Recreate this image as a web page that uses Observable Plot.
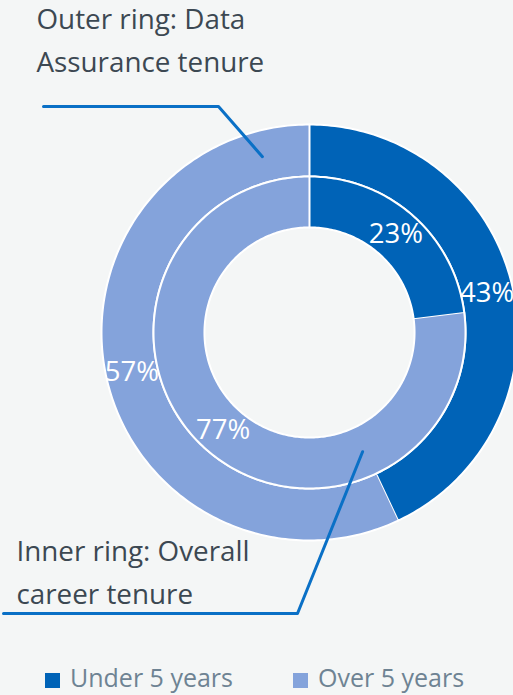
<!DOCTYPE html>
<html><head><meta charset="utf-8">
<script src="https://cdn.jsdelivr.net/npm/d3@7"></script>
<script src="https://cdn.jsdelivr.net/npm/@observablehq/plot@0.6"></script>
<style>
html,body{margin:0;padding:0;background:#F4F6F6;}
body{width:513px;height:695px;overflow:hidden;position:relative;font-family:"Open Sans",sans-serif;}
#chart svg{display:block;background:#F4F6F6;}
#legend{position:absolute;left:0;top:660px;width:513px;height:35px;font-size:25px;color:#6E8393;line-height:34px;}
#legend .item{position:absolute;top:0;white-space:nowrap;}
#legend .sw{position:absolute;top:13px;left:0;width:15px;height:15px;}
#legend .lbl{position:absolute;top:0;left:25px;}
</style></head>
<body><div id="chart"></div><div id="legend"></div>
<script>
// ---- data ----
const categories = ["Under 5 years", "Over 5 years"];
const outerValues = [43, 57];   // Outer ring: Data Assurance tenure
const innerValues = [23, 77];   // Inner ring: Overall career tenure
const ringLabels = [["Outer ring: Data", "Assurance tenure"], ["Inner ring: Overall", "career tenure"]];
const colors = ["#0063B7", "#84A3DB"];

// ---- layout ----
const W = 513, H = 660, cx = 309, cy = 332, R = 208;
const X = px => (px - cx) / R, Y = py => (cy - py) / R;
const rad = a => a * Math.PI / 180;
const rings = [
  {name: "outer", values: outerValues, r0: 0.75, r1: 1},
  {name: "inner", values: innerValues, r0: 0.505, r1: 0.75}
];
const polys = [], labels = [];
for (const ring of rings) {
  const total = d3.sum(ring.values);
  let acc = 0;
  ring.values.forEach((v, i) => {
    const a0 = acc / total * 360, a1 = (acc + v) / total * 360; acc += v;
    const key = ring.name + i, n = Math.max(2, Math.ceil(a1 - a0));
    for (let k = 0; k <= n; k++) { const a = rad(a0 + (a1 - a0) * k / n); polys.push({key, cat: categories[i], x: ring.r1 * Math.sin(a), y: ring.r1 * Math.cos(a)}); }
    for (let k = n; k >= 0; k--) { const a = rad(a0 + (a1 - a0) * k / n); polys.push({key, cat: categories[i], x: ring.r0 * Math.sin(a), y: ring.r0 * Math.cos(a)}); }
    const am = rad((a0 + a1) / 2), rm = (ring.r0 + ring.r1) / 2;
    labels.push({x: rm * Math.sin(am), y: rm * Math.cos(am), text: `${v}%`});
  });
}
// callouts: anchor on ring (angle, radius), elbow and end in px layout
const polar = (a, r) => ({x: r * Math.sin(rad(a)), y: r * Math.cos(rad(a))});
const callouts = [
  {id: "o", pts: [{x: X(43), y: Y(106)}, {x: X(218), y: Y(106)}, polar(345, 0.875)]},
  {id: "i", pts: [{x: X(3), y: Y(613)}, {x: X(297), y: Y(613)}, polar(156, 0.6275)]}
];
const calloutPts = callouts.flatMap(c => c.pts.map(p => ({...p, id: c.id})));
const calloutText = [
  {x: X(36), y: Y(28), text: ringLabels[0][0]},
  {x: X(36), y: Y(71), text: ringLabels[0][1]},
  {x: X(16), y: Y(560), text: ringLabels[1][0]},
  {x: X(16), y: Y(603), text: ringLabels[1][1]}
];

const chart = Plot.plot({
  width: W, height: H,
  margin: 0,
  style: {background: "#F4F6F6", fontFamily: "Open Sans"},
  x: {domain: [X(0), X(W)], axis: null},
  y: {domain: [Y(H), Y(0)], axis: null},
  color: {domain: categories, range: colors},
  marks: [
    Plot.line(polys, {x: "x", y: "y", z: "key", fill: "cat", stroke: "white", strokeWidth: 2, curve: "linear"}),
    Plot.text(labels, {x: "x", y: "y", text: "text", fill: "white", fontSize: 27.5}),
    Plot.line(calloutPts, {x: "x", y: "y", z: "id", stroke: "#0A70C6", strokeWidth: 3}),
    Plot.text(calloutText, {x: "x", y: "y", text: "text", textAnchor: "start", lineAnchor: "bottom", fill: "#3C4852", fontSize: 27.8})
  ]
});
document.getElementById("chart").appendChild(chart);

const legend = document.getElementById("legend");
const itemX = [45, 293];
categories.forEach((c, i) => {
  const it = document.createElement("div");
  it.className = "item"; it.style.left = itemX[i] + "px";
  it.innerHTML = `<span class="sw" style="background:${colors[i]}"></span><span class="lbl">${c}</span>`;
  legend.appendChild(it);
});
</script>
</body></html>
